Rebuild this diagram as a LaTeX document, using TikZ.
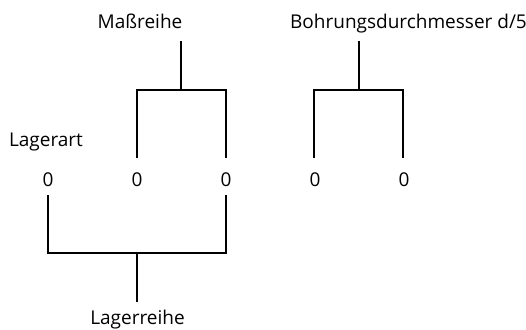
\documentclass[tikz,border=0pt]{standalone}
\usepackage{fontspec}
\setmainfont{Open Sans}
\begin{document}
\begin{tikzpicture}[x=1pt,y=-1pt,
  lbl/.style={inner sep=0pt,anchor=base,font=\fontsize{19}{22}\selectfont},
  ln/.style={line width=2.6pt}]
\useasboundingbox (0,0) rectangle (526,329);
% labels
\node[lbl] (mass) at (140,28.3) {Maßreihe};
\node[lbl] (bohr) at (408.5,28.3) {Bohrungsdurchmesser d/5};
\node[lbl] (art) at (46,146) {Lagerart};
\node[lbl] (reihe) at (137.5,324) {Lagerreihe};
\node[lbl] (z1) at (48,186) {0};
\node[lbl] (z2) at (137,186) {0};
\node[lbl] (z3) at (226,186) {0};
\node[lbl] (z4) at (315,186) {0};
\node[lbl] (z5) at (404,186) {0};
% top-left bracket
\coordinate (m0) at (181,41);
\coordinate (m1) at (181,90);
\draw[ln] (m0) -- (m1);
\draw[ln] (137,158) |- (226,90) -- (226,158);
% top-right bracket
\coordinate (b0) at (359,41);
\coordinate (b1) at (359,90);
\draw[ln] (b0) -- (b1);
\draw[ln] (314,158) |- (403,90) -- (403,158);
% bottom bracket
\draw[ln] (48,195) |- (226,253) -- (226,195);
\coordinate (r0) at (137,253);
\coordinate (r1) at (137,302);
\draw[ln] (r0) -- (r1);
\end{tikzpicture}
\end{document}
